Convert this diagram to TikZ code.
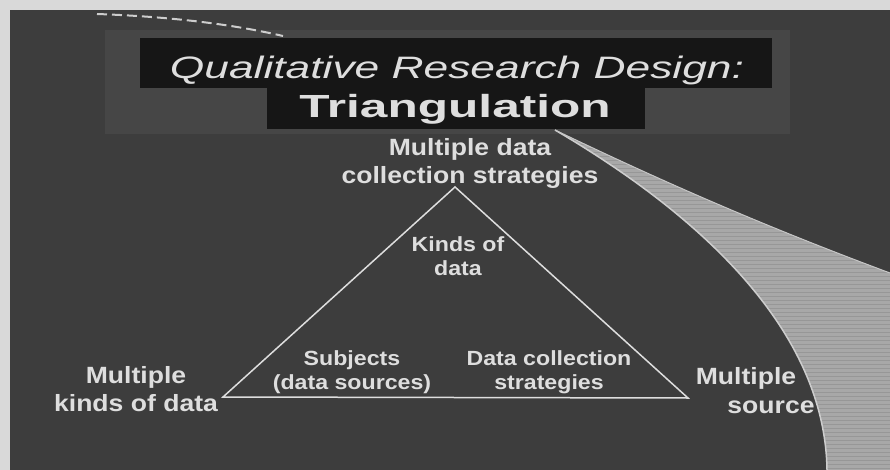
\documentclass[tikz,border=0pt]{standalone}
\usepackage{fontspec}
\setmainfont{Liberation Sans}
\newfontfamily\headfont[FakeStretch=1.43]{Liberation Sans}
\newfontfamily\trifont[FakeStretch=1.55]{Liberation Sans}
\newfontfamily\lblfont[FakeStretch=1.13]{Liberation Sans}
\definecolor{paper}{HTML}{D9D9D9}
\definecolor{slide}{HTML}{3D3D3D}
\definecolor{halo}{HTML}{464646}
\definecolor{titlebox}{HTML}{161616}
\definecolor{inktext}{HTML}{DEDEDE}
\definecolor{band}{HTML}{A8A8A8}
\definecolor{bandline}{HTML}{979797}
\definecolor{bandedge}{HTML}{CDCDCD}
\begin{document}
\begin{tikzpicture}[x=1pt, y=-1pt,
    lbl/.style={text=inktext, anchor=base, align=center, inner sep=0pt,
      font=\lblfont\bfseries\fontsize{23.5}{28}\selectfont},
    inlbl/.style={lbl, font=\lblfont\bfseries\fontsize{20.5}{24}\selectfont},
    headtext/.style={text=inktext, anchor=base, inner sep=0pt}]
    % Page
    \useasboundingbox (0,0) rectangle (890,470);
    \fill[paper] (0,0) rectangle (890,470);
    \fill[slide] (10,10) rectangle (890,470);

    % Title halo
    \fill[halo] (105,30) rectangle (790,134);
    % Title boxes
    \fill[titlebox] (140,38) rectangle (772,88);
    \fill[titlebox] (267,87) rectangle (645,129);
    \node[headtext, font=\headfont\itshape\fontsize{31}{31}\selectfont]
      (head) at (457,79) {Qualitative Research Design:};
    \node[headtext, font=\trifont\bfseries\fontsize{32}{32}\selectfont]
      (tri) at (455,118) {Triangulation};

    % Dashed edge at the top
    \draw[bandedge, line width=2pt, dash pattern=on 10pt off 5pt]
      (97,14) .. controls (180,17) and (240,26) .. (283,36);

    % Triangle
    \coordinate (apex) at (455,187);
    \coordinate (lft) at (223,397);
    \coordinate (rgt) at (688,398);
    \draw[inktext, line width=1.5pt, line join=miter] (apex) -- (lft) -- (rgt) -- cycle;

    % Corner labels (base = last line)
    \node[lbl] (strat) at (470,184) {Multiple data\\collection strategies};
    \node[lbl] (kinds) at (136,411) {Multiple\\kinds of data};
    \node[lbl] (multi) at (746,384) {Multiple};
    \node[lbl] (source) at (771,413) {source};

    % Inner labels
    \node[inlbl] (kindin) at (458,275) {Kinds of\\data};
    \node[inlbl] (subj) at (352,389) {Subjects\\(data sources)};
    \node[inlbl] (dcs) at (549,389) {Data collection\\strategies};

    % Swoosh band
    \begin{scope}
      \clip (555,130) .. controls (680,190) and (780,232) .. (890,273)
        -- (890,470) -- (827,470) .. controls (825,330) and (700,215) .. (555,130) -- cycle;
      \fill[band] (540,120) rectangle (890,470);
      \foreach \y in {132,136,...,470}
        \draw[bandline, line width=0.8pt] (540,\y) -- (890,\y);
    \end{scope}
    \draw[bandedge, line width=1.5pt]
      (555,130) .. controls (700,215) and (825,330) .. (827,470);
    \draw[bandedge!80!band, line width=1pt]
      (555,130) .. controls (680,190) and (780,232) .. (890,273);
  \end{tikzpicture}
\end{document}
